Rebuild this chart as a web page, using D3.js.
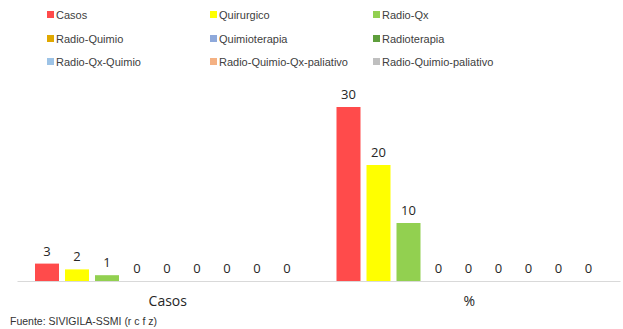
<!DOCTYPE html>
<html><head><meta charset="utf-8">
<script src="https://cdn.jsdelivr.net/npm/d3@7"></script>
<style>body{margin:0;background:#fff}svg{display:block}</style>
</head><body>
<svg id="c" width="623" height="329"></svg>
<script>
const groups = ["Casos", "%"];
const seriesNames = ["Casos","Quirurgico","Radio-Qx","Radio-Quimio","Quimioterapia","Radioterapia","Radio-Qx-Quimio","Radio-Quimio-Qx-paliativo","Radio-Quimio-paliativo"];
const casosValues = [3, 2, 1, 0, 0, 0, 0, 0, 0];
const pctValues = [30, 20, 10, 0, 0, 0, 0, 0, 0];
const colors = ["#FF4B4B","#FFFF00","#92D050","#E0A800","#8EA9DB","#5E9E3C","#9DC3E6","#F4B183","#BFBFBF"];
const source = "Fuente: SIVIGILA-SSMI (r c f z)";

const values = [casosValues, pctValues];
const svg = d3.select("#c");
const font = "'Open Sans', 'Liberation Sans', sans-serif";

const x0 = d3.scaleBand().domain(groups).range([17, 620]).paddingInner(0).paddingOuter(0);
const x1 = d3.scaleBand().domain(seriesNames).range([15, x0.bandwidth() - 16.5]).paddingInner(0.2).paddingOuter(0.1);
const y = d3.scaleLinear().domain([0, 30]).range([281, 107]);

const g = svg.append("g");
groups.forEach((grp, gi) => {
  const gg = g.append("g").attr("transform", `translate(${x0(grp)},0)`);
  seriesNames.forEach((s, si) => {
    const v = values[gi][si];
    gg.append("rect")
      .attr("x", x1(s)).attr("width", x1.bandwidth())
      .attr("y", y(v)).attr("height", y(0) - y(v))
      .attr("fill", colors[si]);
    gg.append("text")
      .attr("x", x1(s) + x1.bandwidth() / 2).attr("y", y(v) - 8)
      .attr("text-anchor", "middle")
      .attr("font-family", font).attr("font-size", 13)
      .attr("fill", "#262626")
      .text(v);
  });
});

// axis
const ax = svg.append("g").attr("transform", `translate(0,${y(0)})`)
  .call(d3.axisBottom(x0).tickSize(0).tickPadding(15));
ax.select(".domain").attr("stroke", "#d9d9d9");
ax.selectAll("text").attr("font-family", font).attr("font-size", 14).attr("fill", "#262626");

// legend
const legX = [47, 210, 373], legY = [15, 39, 62];
seriesNames.forEach((s, i) => {
  const lx = legX[i % 3], ly = legY[Math.floor(i / 3)];
  svg.append("rect").attr("x", lx).attr("y", ly - 4).attr("width", 7).attr("height", 7).attr("fill", colors[i]);
  svg.append("text").attr("x", lx + 9).attr("y", ly).attr("dy", "0.35em")
    .attr("font-family", "'Liberation Sans', Arial, sans-serif").attr("font-size", 11)
    .attr("fill", "#404040").text(s);
});

svg.append("text").attr("x", 10).attr("y", 325)
  .attr("font-family", "'Liberation Sans', Arial, sans-serif").attr("font-size", 10.5)
  .attr("fill", "#333").text(source);
</script>
</body></html>
